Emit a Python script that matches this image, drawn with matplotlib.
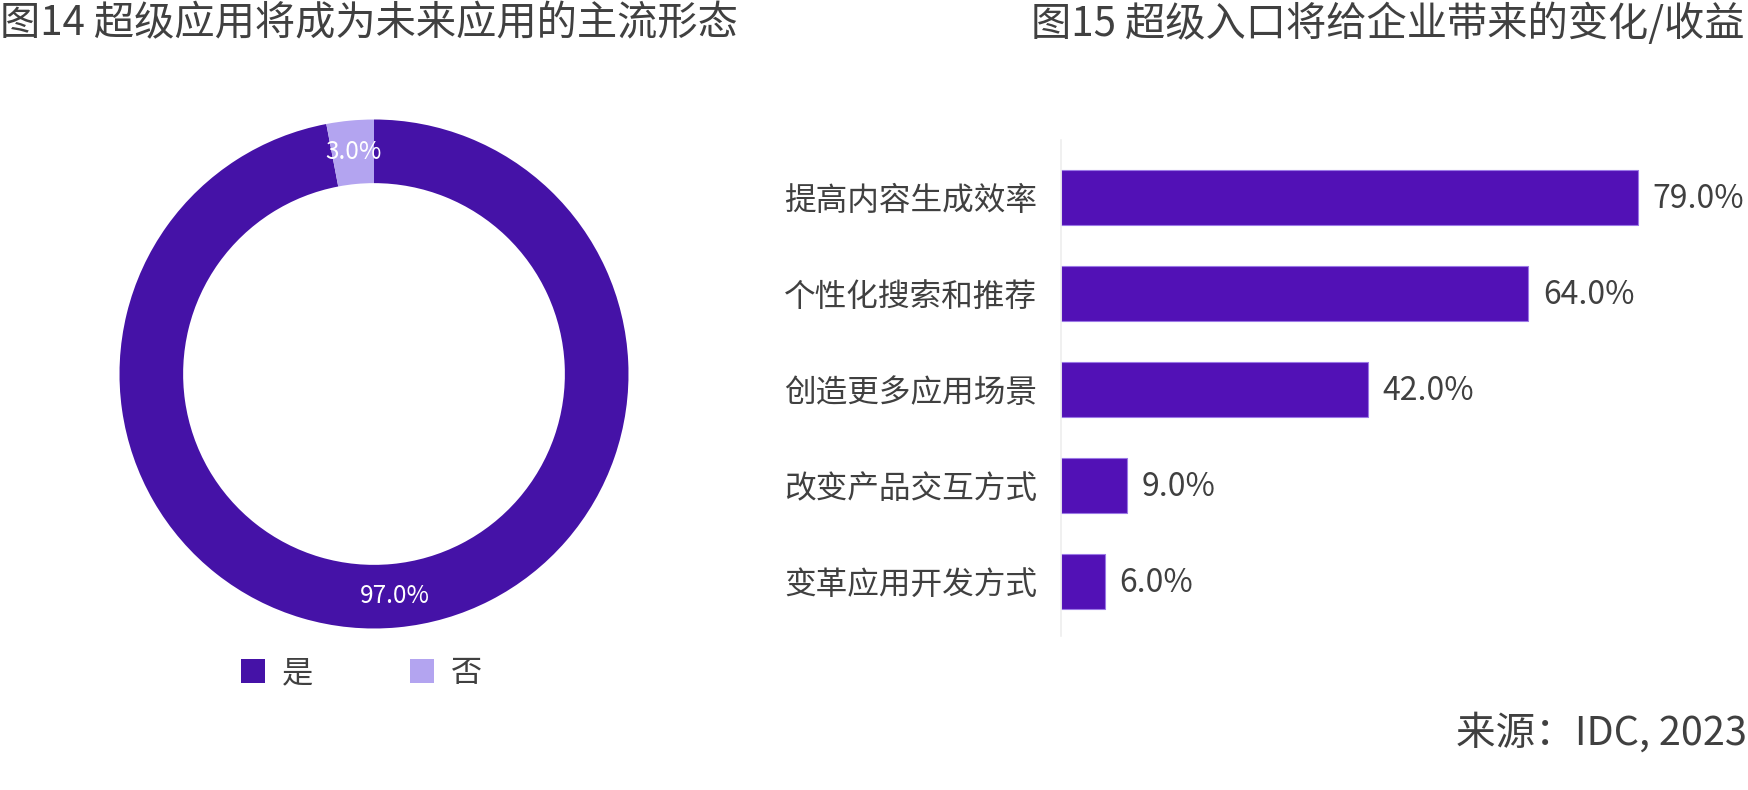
import matplotlib.pyplot as plt
from matplotlib.patches import Patch

plt.rcParams['font.family'] = ['Noto Sans CJK SC', 'DejaVu Sans']

# left chart: donut
pie_labels = ["是", "否"]
pie_values = [97.0, 3.0]
pie_colors = ["#4512A7", "#B3A4F0"]

# right chart: bars
categories = ["提高内容生成效率", "个性化搜索和推荐", "创造更多应用场景", "改变产品交互方式", "变革应用开发方式"]
bar_values = [79.0, 64.0, 42.0, 9.0, 6.0]
bar_color = "#5211B6"

title_left = "图14 超级应用将成为未来应用的主流形态"
title_right = "图15 超级入口将给企业带来的变化/收益"
source = "来源：IDC, 2023"
text_color = "#404040"

W, H = 1749, 790
fig = plt.figure(figsize=(W / 100, H / 100), dpi=100)


def box(x0, y0, x1, y1):
    # pixel box (from top-left) -> figure fraction
    return [x0 / W, 1 - y1 / H, (x1 - x0) / W, (y1 - y0) / H]


# donut
ax1 = fig.add_axes(box(119.5, 119.5, 628.5, 628.5))
wedges, texts, autotexts = ax1.pie(
    pie_values, colors=pie_colors, startangle=90, counterclock=False,
    radius=1, autopct="%.1f%%", pctdistance=0.875,
    wedgeprops=dict(width=0.25, edgecolor="none"),
    textprops=dict(color="white", fontsize=17.5))
ax1.set_xlim(-1, 1)
ax1.set_ylim(-1, 1)
ax1.set_aspect("equal")
ax1.axis("off")

handles = [Patch(facecolor=c, edgecolor="none") for c in pie_colors]
fig.legend(handles, pie_labels, loc="center", bbox_to_anchor=(361.5 / W, 1 - 673 / H),
           ncol=2, frameon=False, fontsize=22.5, handlelength=0.77, handleheight=0.77,
           handletextpad=0.55, columnspacing=3.1, labelcolor=text_color)

# bars
ax2 = fig.add_axes(box(1061, 140, 1749, 636))
ypos = list(range(len(categories)))
ax2.barh(ypos, bar_values, height=0.575, color=bar_color, edgecolor="#9B78E6", linewidth=0.8)
for y, v in zip(ypos, bar_values):
    ax2.annotate(f"{v:.1f}%", (v, y), xytext=(10.5, -1), textcoords="offset points",
                 ha="left", va="center", fontsize=23, color=text_color)
ax2.set_xlim(0, 94.2)
ax2.set_ylim(4.57, -0.6)
ax2.set_yticks(ypos)
ax2.set_yticklabels(categories, fontsize=22.8, color=text_color)
ax2.tick_params(axis="y", length=0, pad=17)
ax2.set_xticks([])
for s in ["top", "right", "bottom"]:
    ax2.spines[s].set_visible(False)
ax2.spines["left"].set_color("#EEEEEE")
ax2.spines["left"].set_linewidth(1.2)

# titles and source
fig.text(0, 1 - 3 / H, title_left, ha="left", va="top", fontsize=29, color=text_color)
fig.text(1745 / W, 1 - 3 / H, title_right, ha="right", va="top", fontsize=29, color=text_color)
fig.text(1747 / W, 1 - 733 / H, source, ha="right", va="center", fontsize=28.5, color=text_color)

fig.savefig("out.png", dpi=100)
